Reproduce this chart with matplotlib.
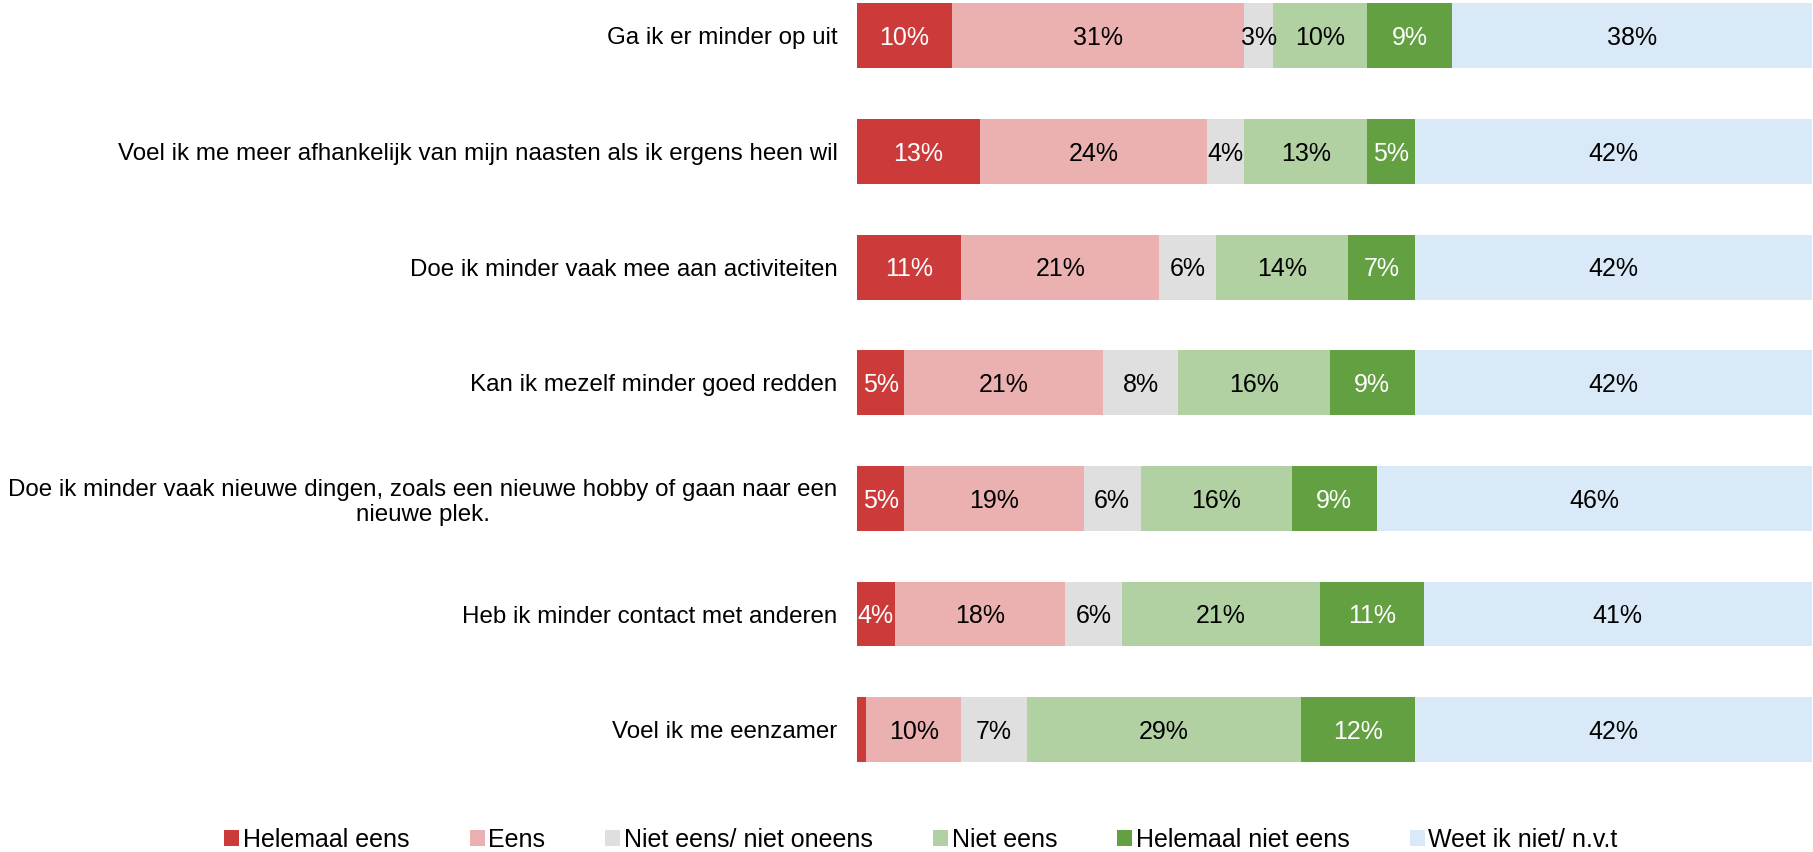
import matplotlib.pyplot as plt
import numpy as np

plt.rcParams['font.family'] = ['Liberation Sans', 'DejaVu Sans']

categories = [
    'Ga ik er minder op uit',
    'Voel ik me meer afhankelijk van mijn naasten als ik ergens heen wil',
    'Doe ik minder vaak mee aan activiteiten',
    'Kan ik mezelf minder goed redden',
    'Doe ik minder vaak nieuwe dingen, zoals een nieuwe hobby of gaan naar een\nnieuwe plek.',
    'Heb ik minder contact met anderen',
    'Voel ik me eenzamer',
]
series = ['Helemaal eens', 'Eens', 'Niet eens/ niet oneens', 'Niet eens',
          'Helemaal niet eens', 'Weet ik niet/ n.v.t']
helemaal_eens = [10, 13, 11, 5, 5, 4, 1]
eens = [31, 24, 21, 21, 19, 18, 10]
neutraal = [3, 4, 6, 8, 6, 6, 7]
niet_eens = [10, 13, 14, 16, 16, 21, 29]
helemaal_niet_eens = [9, 5, 7, 9, 9, 11, 12]
weet_niet = [38, 42, 42, 42, 46, 41, 42]

colors = ['#CC3A3A', '#EBB1B0', '#DEDFDE', '#B2D1A2', '#62A042', '#DAE9F8']
text_colors = ['white', 'black', 'black', 'black', 'white', 'black']

data = np.array([helemaal_eens, eens, neutraal, niet_eens,
                 helemaal_niet_eens, weet_niet], dtype=float)
share = data / data.sum(axis=0) * 100

fig = plt.figure(figsize=(18.13, 8.52), dpi=100)
ax = fig.add_axes([0.4727, 0.073, 0.5265, 0.927])

y = np.arange(len(categories))
left = np.zeros(len(categories))
for i, name in enumerate(series):
    ax.barh(y, share[i], left=left, height=0.56, color=colors[i], label=name)
    for j in range(len(categories)):
        if data[i, j] >= 2:
            ax.text(left[j] + share[i, j] / 2, y[j] + 0.02, f'{int(data[i, j])}%',
                    ha='center', va='center', fontsize=18,
                    color=text_colors[i])
    left += share[i]

ax.set_xlim(0, 100)
ax.set_ylim(6.52, -0.31)
ax.set_yticks(y)
ax.set_yticklabels(categories, fontsize=17.4, multialignment='center')
ax.tick_params(axis='y', length=0, pad=14)
ax.set_xticks([])
for s in ax.spines.values():
    s.set_visible(False)

fig.legend(loc='lower center', bbox_to_anchor=(0.508, -0.026), ncol=6,
           frameon=False, fontsize=18, handlelength=0.6, handleheight=0.6,
           handletextpad=0.15, columnspacing=2.4)

fig.savefig('out.png', dpi=100)
